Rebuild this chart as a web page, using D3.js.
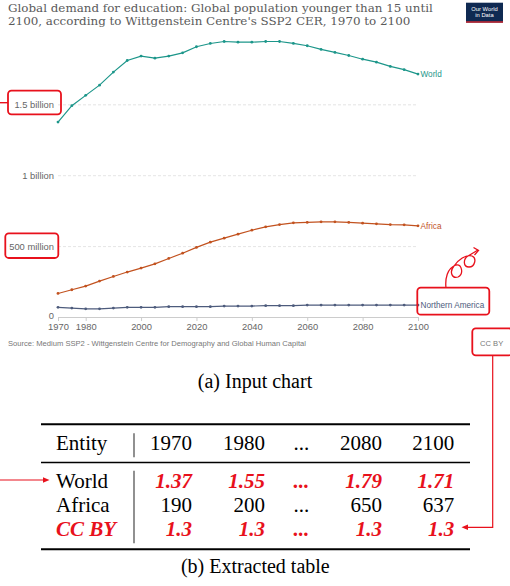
<!DOCTYPE html>
<html><head><meta charset="utf-8">
<script src="https://cdn.jsdelivr.net/npm/d3@7/dist/d3.min.js"></script>
<style>body{margin:0;background:#fff;}svg{display:block;}</style>
</head><body>
<script>
// ---------- data ----------
const years = [1970,1975,1980,1985,1990,1995,2000,2005,2010,2015,2020,2025,2030,2035,2040,2045,2050,2055,2060,2065,2070,2075,2080,2085,2090,2095,2100];
// population younger than 15, millions
const world = [1375,1490,1563,1635,1727,1809,1840,1825,1840,1863,1906,1929,1943,1938,1938,1943,1943,1929,1913,1887,1866,1844,1818,1797,1767,1744,1713];
const africa = [166,192,218,253,286,317,345,375,413,450,491,528,556,584,612,636,652,664,667,671,671,667,662,657,652,650,643];
const northernAmerica = [68,63,58,58,63,68,68,68,73,73,73,73,77,77,77,80,80,80,84,84,84,84,84,84,84,84,84];
const seriesNames = ["World","Africa","Northern America"];
const xTicks = [1970,1980,2000,2020,2040,2060,2080,2100];
const yTicks = [0,500,1000,1500];
const yTickLabels = ["0","500 million","1 billion","1.5 billion"];
const titleLines = ["Global demand for education: Global population younger than 15 until","2100, according to Wittgenstein Centre's SSP2 CER, 1970 to 2100"];
const sourceText = "Source: Medium SSP2 - Wittgenstein Centre for Demography and Global Human Capital";
const licenseText = "CC BY";
const tableHeader = ["Entity","1970","1980","...","2080","2100"];
const tableWorld = ["World","1.37","1.55","...","1.79","1.71"];
const tableAfrica = ["Africa","190","200","...","650","637"];
const tableCC = ["CC BY","1.3","1.3","...","1.3","1.3"];
const captionA = "(a) Input chart";
const captionB = "(b) Extracted table";

// ---------- setup ----------
const W = 510, H = 586;
const RED = "#e8111c";
const svg = d3.select("body").append("svg").attr("width", W).attr("height", H);
svg.append("rect").attr("width", W).attr("height", H).attr("fill", "#fff");

const sans = "Arial, 'Liberation Sans', sans-serif";
const serif = "'Liberation Serif', 'Times New Roman', serif";

// title
svg.selectAll("text.title").data(titleLines).join("text")
  .attr("x", 8).attr("y", (d, i) => 11.7 + i * 13.4)
  .attr("font-family", "'DejaVu Serif', Georgia, serif").attr("font-size", 11.9).attr("fill", "#5a5a5a")
  .text(d => d);

// logo
const logo = svg.append("g");
logo.append("rect").attr("x", 466).attr("y", 2.7).attr("width", 37).attr("height", 20).attr("fill", "#0f2a52");
logo.append("rect").attr("x", 466).attr("y", 21.3).attr("width", 37).attr("height", 1.4).attr("fill", "#d7282f");
logo.selectAll("text").data(["Our World", "in Data"]).join("text")
  .attr("x", 484.5).attr("y", (d, i) => 10.5 + i * 6.3).attr("text-anchor", "middle")
  .attr("font-family", sans).attr("font-size", 5.8).attr("fill", "#fff").text(d => d);

// scales
const x = d3.scaleLinear().domain([1970, 2100]).range([58, 418]);
const y = d3.scaleLinear().domain([0, 1500]).range([317, 104.3]);

// y axis with gridlines
const yAxis = svg.append("g").attr("transform", "translate(58,0)")
  .call(d3.axisLeft(y).tickValues(yTicks).tickFormat((d, i) => yTickLabels[i]).tickSize(-360).tickPadding(4));
yAxis.select(".domain").remove();
yAxis.selectAll(".tick line").attr("stroke", "#ddd").attr("stroke-dasharray", "3,2")
  .attr("stroke-width", 0.8).filter(d => d === 0).remove();
yAxis.selectAll(".tick text").attr("font-family", sans).attr("font-size", 9.4).attr("fill", "#666");
yAxis.selectAll(".tick text").filter(d => d === 0).attr("dy", "0.2em");

// x axis
const xAxis = svg.append("g").attr("transform", "translate(0," + y(0) + ")")
  .call(d3.axisBottom(x).tickValues(xTicks).tickFormat(d3.format("d")).tickSize(4).tickPadding(2.5));
xAxis.select(".domain").attr("stroke", "#ccc");
xAxis.selectAll(".tick line").attr("stroke", "#ccc");
xAxis.selectAll(".tick text").attr("font-family", sans).attr("font-size", 9.4).attr("fill", "#666");

// series
const series = [
  { name: seriesNames[0], values: world, color: "#1c968a" },
  { name: seriesNames[1], values: africa, color: "#c2521f" },
  { name: seriesNames[2], values: northernAmerica, color: "#4d5b7c" }
];
const line = d3.line().x((d, i) => x(years[i])).y(d => y(d));
series.forEach(s => {
  const g = svg.append("g");
  g.append("path").attr("d", line(s.values)).attr("fill", "none").attr("stroke", s.color).attr("stroke-width", 1.2);
  g.selectAll("circle").data(s.values).join("circle")
    .attr("cx", (d, i) => x(years[i])).attr("cy", d => y(d)).attr("r", 1.4).attr("fill", s.color);
  const last = s.values[s.values.length - 1];
  g.append("text").attr("x", x(2100) + 2.5).attr("y", y(last)).attr("dy", "0.35em")
    .attr("font-family", sans).attr("font-size", 8.2).attr("fill", s.color).text(s.name);
});

// source & license
svg.append("text").attr("x", 8).attr("y", 346).attr("font-family", sans).attr("font-size", 7.6)
  .attr("fill", "#777").text(sourceText);
svg.append("text").attr("x", 480).attr("y", 346).attr("font-family", sans).attr("font-size", 7.6)
  .attr("fill", "#777").text(licenseText);

// red annotation boxes
const boxes = [
  [8, 90.7, 53, 23.6],
  [5.3, 233.3, 53, 24.7],
  [417.3, 287.7, 72, 27],
  [472.3, 328.3, 40, 27]
];
svg.selectAll("rect.box").data(boxes).join("rect")
  .attr("x", d => d[0]).attr("y", d => d[1]).attr("width", d => d[2]).attr("height", d => d[3])
  .attr("rx", 3.5).attr("fill", "none").attr("stroke", RED).attr("stroke-width", 1.8);
// line from 1.5 billion box
svg.append("line").attr("x1", 0).attr("x2", 8).attr("y1", 102.7).attr("y2", 102.7).attr("stroke", RED).attr("stroke-width", 1.4);

// squiggle arrow
svg.append("path")
  .attr("d", "M446,288 C445,279 447,268 456,265 C462,264 464,274 458,277 C452,279 449,272 454,266 C458,260 466,254 472,256 C477,258 475,267 469,267 C463,267 463,259 468,256 L478,250")
  .attr("fill", "none").attr("stroke", RED).attr("stroke-width", 1.3);
svg.append("path").attr("d", "M473.5,247.5 L478.5,250.5 L474.5,255")
  .attr("fill", "none").attr("stroke", RED).attr("stroke-width", 1.3);

// CC BY connector
svg.append("path").attr("d", "M492.7,355 L492.7,527.3 L466,527.3").attr("fill", "none").attr("stroke", RED).attr("stroke-width", 1.2);
svg.append("path").attr("d", "M461.5,527.3 L468,524.6 L468,530 Z").attr("fill", RED);

// World arrow
svg.append("line").attr("x1", 0).attr("x2", 44).attr("y1", 480).attr("y2", 480).attr("stroke", RED).attr("stroke-width", 1.2);
svg.append("path").attr("d", "M49.5,480 L43,477.3 L43,482.7 Z").attr("fill", RED);

// captions
svg.append("text").attr("x", 255).attr("y", 388).attr("text-anchor", "middle")
  .attr("font-family", serif).attr("font-size", 20).attr("fill", "#000").text(captionA);
svg.append("text").attr("x", 255.3).attr("y", 573).attr("text-anchor", "middle")
  .attr("font-family", serif).attr("font-size", 20).attr("fill", "#000").text(captionB);

// table
const colRight = [null, 192, 265, 309.3, 382, 454.3];
const rows = [
  { cells: tableHeader, y: 450, red: false },
  { cells: tableWorld, y: 487.5, red: true },
  { cells: tableAfrica, y: 511.7, red: false },
  { cells: tableCC, y: 535.5, red: true, redLabel: true }
];
rows.forEach(r => {
  r.cells.forEach((c, i) => {
    const t = svg.append("text").attr("y", r.y).attr("font-family", serif).attr("font-size", 21).text(c);
    if (i === 0) {
      t.attr("x", 56).attr("fill", r.redLabel ? RED : "#000");
      if (r.redLabel) t.attr("font-weight", "bold").attr("font-style", "italic");
    } else {
      t.attr("x", colRight[i]).attr("text-anchor", "end").attr("fill", r.red ? RED : "#000");
      if (r.red) t.attr("font-weight", "bold").attr("font-style", "italic");
    }
  });
});
svg.append("line").attr("x1", 41).attr("x2", 470).attr("y1", 424.3).attr("y2", 424.3).attr("stroke", "#000").attr("stroke-width", 2);
svg.append("line").attr("x1", 41).attr("x2", 470).attr("y1", 462.5).attr("y2", 462.5).attr("stroke", "#000").attr("stroke-width", 1.3);
svg.append("line").attr("x1", 41).attr("x2", 470).attr("y1", 549.3).attr("y2", 549.3).attr("stroke", "#000").attr("stroke-width", 2);
svg.append("line").attr("x1", 134).attr("x2", 134).attr("y1", 433.3).attr("y2", 457.3).attr("stroke", "#555").attr("stroke-width", 1.3);
svg.append("line").attr("x1", 134).attr("x2", 134).attr("y1", 470.7).attr("y2", 543.3).attr("stroke", "#555").attr("stroke-width", 1.3);
</script>
</body></html>
